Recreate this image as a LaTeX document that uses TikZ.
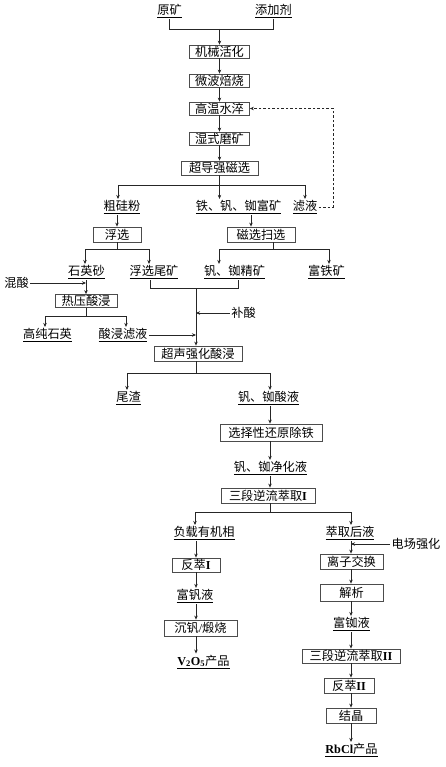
\documentclass[tikz,border=0pt]{standalone}
\usepackage{fontspec}
\setmainfont{Noto Sans CJK SC}
\newfontfamily\lat{Liberation Serif}
\usetikzlibrary{arrows.meta}
\begin{document}
\begin{tikzpicture}[x=1pt,y=-1pt,
  line width=0.8pt, draw=black!85,
  fs/.style={font=\fontsize{12.2}{13}\selectfont},
  box/.style={draw=black!70, line width=0.8pt, inner sep=0pt, fs},
  lbl/.style={inner sep=1pt, fs},
  arr/.style={-{Stealth[length=4pt,width=3.5pt]}},
  dsh/.style={dash pattern=on 2.5pt off 2pt}]
\useasboundingbox (0,0) rectangle (446,767);
% column helpers
\coordinate (x118) at (118,0);
\coordinate (x196) at (196,0);
\coordinate (x219) at (219.5,0);
\coordinate (x251) at (251,0);
\coordinate (x270) at (270,0);
\coordinate (x351) at (351,0);
% boxes
\node[box, minimum width=60, minimum height=13] (b1) at (219.5,51.5) {机械活化};
\node[box, minimum width=60, minimum height=13] (b2) at (219.5,80.5) {微波焙烧};
\node[box, minimum width=60, minimum height=13] (b3) at (219.5,108.5) {高温水淬};
\node[box, minimum width=60, minimum height=13] (b4) at (219.5,138.5) {湿式磨矿};
\node[box, minimum width=77, minimum height=14] (b5) at (219.5,168) {超导强磁选};
\node[box, minimum width=48, minimum height=15] (b6) at (117,234.5) {浮选};
\node[box, minimum width=68, minimum height=15] (b7) at (261,234.5) {磁选扫选};
\node[box, minimum width=62, minimum height=13] (b8) at (86,301) {热压酸浸};
\node[box, minimum width=88, minimum height=15] (b9) at (198,353.5) {超声强化酸浸};
\node[box, minimum width=102, minimum height=17] (b10) at (271,432.5) {选择性还原除铁};
\node[box, minimum width=94, minimum height=15] (b11) at (268,495.5) {三段逆流萃取{\lat\bfseries I}};
\node[box, minimum width=48, minimum height=14] (b12) at (196,565) {反萃{\lat\bfseries I}};
\node[box, minimum width=63, minimum height=15] (b13) at (351.5,561.5) {离子交换};
\node[box, minimum width=63, minimum height=17] (b14) at (351.5,592.5) {解析};
\node[box, minimum width=73, minimum height=16] (b15) at (200.5,628) {沉钒{\lat/}煅烧};
\node[box, minimum width=98, minimum height=14] (b16) at (351,656) {三段逆流萃取{\lat\bfseries II}};
\node[box, minimum width=50, minimum height=15] (b17) at (349,685.5) {反萃{\lat\bfseries II}};
\node[box, minimum width=50, minimum height=15] (b18) at (351,715.5) {结晶};
% labels
\node[lbl] (ky) at (169.5,11) {\underline{原矿}};
\node[lbl] (tj) at (273.5,11) {\underline{添加剂}};
\node[lbl] (cgf) at (122,207) {\underline{粗硅粉}};
\node[lbl] (tfr) at (238.5,207) {\underline{铁、钒、铷富矿}};
\node[lbl] (ly) at (305,207) {\underline{滤液}};
\node[lbl] (sys) at (86.5,272) {\underline{石英砂}};
\node[lbl] (fxwk) at (154,272) {\underline{浮选尾矿}};
\node[lbl] (vrjk) at (234.5,272) {\underline{钒、铷精矿}};
\node[lbl] (ftk) at (326.5,272) {\underline{富铁矿}};
\node[lbl] (hs) at (16.5,283) {混酸};
\node[lbl] (gcsy) at (47.5,335) {\underline{高纯石英}};
\node[lbl] (sjly) at (123,335) {\underline{酸浸滤液}};
\node[lbl] (bs) at (243.5,313) {补酸};
\node[lbl] (wz) at (128.5,398) {\underline{尾渣}};
\node[lbl] (vrsy) at (268.5,398) {\underline{钒、铷酸液}};
\node[lbl] (jhy) at (270.5,468) {\underline{钒、铷净化液}};
\node[lbl] (fz) at (204,533) {\underline{负载有机相}};
\node[lbl] (cq) at (350,533) {\underline{萃取后液}};
\node[lbl] (dc) at (416,544) {电场强化};
\node[lbl] (ffy) at (195,596) {\underline{富钒液}};
\node[lbl] (fry) at (351.5,624) {\underline{富铷液}};
\node[lbl] (v2o5) at (203.5,662) {\underline{{\lat\bfseries V\textsubscript{2}O\textsubscript{5}}产品}};
\node[lbl] (rbcl) at (351.5,750) {\underline{{\lat\bfseries RbCl}产品}};
% junctions
\coordinate (j0) at (219.5,29);
\coordinate (j1) at (219.5,185);
\coordinate (j1a) at (118,185);
\coordinate (j1c) at (305,185);
\coordinate (d1) at (333,207);
\coordinate (j2) at (117,249);
\coordinate (j2a) at (85,249);
\coordinate (j2b) at (149,249);
\coordinate (j3) at (273,249);
\coordinate (j3a) at (219,249);
\coordinate (j3b) at (329,249);
\coordinate (j4) at (196,288);
\coordinate (j4a) at (150,288);
\coordinate (j4b) at (238,288);
\coordinate (j7) at (86,316);
\coordinate (j7a) at (45,316);
\coordinate (j7b) at (126,316);
\coordinate (j5) at (196,373);
\coordinate (j5a) at (127,373);
\coordinate (j5b) at (270,373);
\coordinate (j6) at (270,512);
\coordinate (j6a) at (195,512);
\coordinate (j6b) at (351,512);
% top
\draw (ky.south) -- (ky.south |- j0) -- (tj.south |- j0) -- (tj.south);
\draw[arr] (j0) -- (b1.north);
\draw[arr] (b1) -- (b2);
\draw[arr] (b2) -- (b3);
\draw[arr] (b3) -- (b4);
\draw[arr] (b4) -- (b5);
% split 1
\draw (b5.south) -- (j1);
\draw (j1a) -- (j1c);
\draw[arr] (j1a) -- (cgf.north -| j1a);
\draw[arr] (j1) -- (tfr.north -| j1);
\draw[arr] (j1c) -- (ly.north -| j1c);
\draw[arr,dsh] (ly.east) -- (d1) -- (d1 |- b3) -- (b3.east);
% left branch
\draw[arr] (cgf.south -| b6) -- (b6.north);
\draw (b6.south) -- (j2);
\draw (j2a) -- (j2b);
\draw[arr] (j2a) -- (sys.north -| j2a);
\draw[arr] (j2b) -- (fxwk.north -| j2b);
\draw[arr] (sys.south -| b8) -- (b8.north);
\draw[arr] (hs.east) -- (hs.east -| b8);
\draw (b8.south) -- (j7);
\draw (j7a) -- (j7b);
\draw[arr] (j7a) -- (gcsy.north -| j7a);
\draw[arr] (j7b) -- (sjly.north -| j7b);
% middle branch
\draw[arr] (tfr.south -| x251) -- (b7.north -| x251);
\draw (b7.south -| j3) -- (j3);
\draw (j3a) -- (j3b);
\draw[arr] (j3a) -- (vrjk.north -| j3a);
\draw[arr] (j3b) -- (ftk.north -| j3b);
% merge
\draw (fxwk.south -| j4a) -- (j4a) -- (j4b) -- (vrjk.south -| j4b);
\draw[arr] (j4) -- (b9.north -| j4);
\draw[arr] (bs.west) -- (bs.west -| j4);
\draw[arr] (sjly.east) -- (sjly.east -| j4);
% after leach
\draw (b9.south -| j5) -- (j5);
\draw (j5a) -- (j5b);
\draw[arr] (j5a) -- (wz.north -| j5a);
\draw[arr] (j5b) -- (vrsy.north -| j5b);
\draw[arr] (vrsy.south -| x270) -- (b10.north -| x270);
\draw[arr] (b10.south -| x270) -- (jhy.north -| x270);
\draw[arr] (jhy.south -| x270) -- (b11.north -| x270);
\draw (b11.south -| j6) -- (j6);
\draw (j6a) -- (j6b);
\draw[arr] (j6a) -- (fz.north -| j6a);
\draw[arr] (j6b) -- (cq.north -| j6b);
% V branch
\draw[arr] (fz.south -| x196) -- (b12.north -| x196);
\draw[arr] (b12.south -| x196) -- (ffy.north -| x196);
\draw[arr] (ffy.south -| x196) -- (b15.north -| x196);
\draw[arr] (b15.south -| x196) -- (v2o5.north -| x196);
% Rb branch
\draw[arr] (cq.south -| x351) -- (b13.north -| x351);
\draw[arr] (dc.west) -- (dc.west -| x351);
\draw[arr] (b13.south -| x351) -- (b14.north -| x351);
\draw[arr] (b14.south -| x351) -- (fry.north -| x351);
\draw[arr] (fry.south -| x351) -- (b16.north -| x351);
\draw[arr] (b16.south -| x351) -- (b17.north -| x351);
\draw[arr] (b17.south -| x351) -- (b18.north -| x351);
\draw[arr] (b18.south -| x351) -- (rbcl.north -| x351);
\end{tikzpicture}
\end{document}
